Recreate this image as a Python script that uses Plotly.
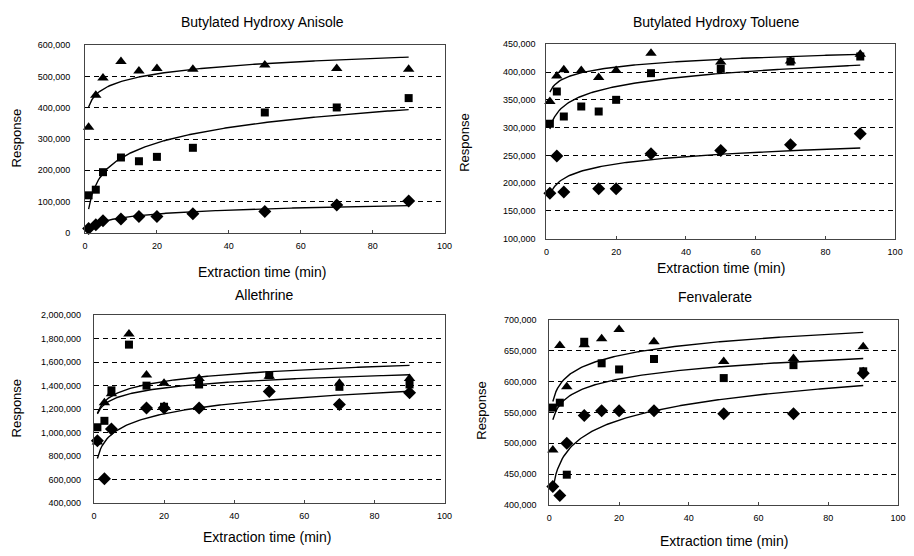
import numpy as np
import plotly.graph_objects as go

# ---------------- data ----------------
times = [1, 3, 5, 10, 15, 20, 30, 50, 70, 90]

bha_tri = [338000, 440000, 495000, 548000, 518000, 526000, 523000, 537000, 526000, 523000]
bha_sq = [120000, 138000, 194000, 241000, 229000, 243000, 272000, 385000, 401000, 431000]
bha_dia = [14000, 26000, 39000, 44000, 52000, 52000, 61000, 68000, 89000, 102000]

bht_tri = [347000, 393000, 404000, 403000, 390000, 403000, 434000, 418000, 420000, 432000]
bht_sq = [307000, 365000, 320000, 338000, 329000, 350000, 398000, 406000, 419000, 428000]
bht_dia = [182000, 249000, 184000, None, 190000, 190000, 253000, 259000, 269000, 289000]

all_tri = [920000, 1255000, 1330000, 1840000, 1490000, 1420000, 1460000, 1480000, 1420000, 1460000]
all_sq = [1045000, 1100000, 1360000, 1750000, 1400000, 1220000, 1410000, 1490000, 1390000, 1410000]
all_dia = [930000, 605000, 1030000, None, 1210000, 1210000, 1210000, 1350000, 1240000, 1340000]

fen_tri = [489000, 659000, 592000, 660000, 670000, 685000, 665000, 633000, 638000, 657000]
fen_sq = [558000, 566000, 449000, 665000, 630000, 620000, 637000, 606000, 627000, 617000]
fen_dia = [430000, 415000, 500000, 545000, 553000, 553000, 553000, 548000, 548000, 614000]

titles = ["Butylated Hydroxy Anisole", "Butylated Hydroxy Toluene", "Allethrine", "Fenvalerate"]
x_title = "Extraction time (min)"
y_title = "Response"
x_ticks = [0, 20, 40, 60, 80, 100]

panels = [
    dict(tri=bha_tri, sq=bha_sq, dia=bha_dia, yr=[0, 600000], dt=100000),
    dict(tri=bht_tri, sq=bht_sq, dia=bht_dia, yr=[100000, 450000], dt=50000),
    dict(tri=all_tri, sq=all_sq, dia=all_dia, yr=[400000, 2000000], dt=200000),
    dict(tri=fen_tri, sq=fen_sq, dia=fen_dia, yr=[400000, 700000], dt=50000),
]

# ---------------- layout geometry (pixels) ----------------
W, H = 914, 556
boxes = [  # left, right, top, bottom in px
    (83, 447, 41, 232),
    (550, 903, 40, 238),
    (92, 447, 316, 507),
    (553, 906, 321, 509),
]
ystandoff = [12, 8, 10, 10]
title_pos = [(263, 17), (722, 17), (265, 295), (721, 297)]
xlab_pos = [(262, 272), (727, 268), (267, 542), (730, 546)]
ylab_pos = [(14, 135), (467, 140), (14, 410), (484, 413)]

FONT = "Arial, Liberation Sans, sans-serif"

fig = go.Figure()


def fit_curve(x, y):
    xs = np.array([a for a, b in zip(x, y) if b is not None], dtype=float)
    ys = np.array([b for b in y if b is not None], dtype=float)
    b, a = np.polyfit(np.log(xs), ys, 1)
    xx = np.linspace(min(xs), max(xs), 200)
    return xx, a + b * np.log(xx)


for i, p in enumerate(panels):
    n = "" if i == 0 else str(i + 1)
    xa, ya = "x" + n, "y" + n
    for key, sym, size in [("dia", "diamond", 10), ("sq", "square", 8), ("tri", "triangle-up", 10)]:
        ys = p[key]
        fig.add_trace(go.Scatter(
            x=times, y=ys, mode="markers", xaxis=xa, yaxis=ya,
            marker=dict(symbol=sym, size=size, color="black", line=dict(width=0)),
            showlegend=False, cliponaxis=False))
        cx, cy = fit_curve(times, ys)
        fig.add_trace(go.Scatter(
            x=cx, y=cy, mode="lines", xaxis=xa, yaxis=ya,
            line=dict(color="black", width=1.4), showlegend=False))

    l, r, t, b = boxes[i]
    xdom = [l / W, r / W]
    ydom = [1 - b / H, 1 - t / H]
    fig.layout["xaxis" + n] = dict(
        domain=xdom, range=[0, 100], tickvals=x_ticks, showgrid=False, zeroline=False,
        showline=True, mirror=True, linecolor="#444", linewidth=1,
        ticks="inside", ticklen=3, tickcolor="#444", ticklabelstandoff=4,
        tickfont=dict(family=FONT, size=9, color="black"), anchor=ya)
    fig.layout["yaxis" + n] = dict(
        domain=ydom, range=p["yr"], dtick=p["dt"], tick0=p["yr"][0], tickformat=",",
        showgrid=True, gridcolor="black", griddash="5px,4px", gridwidth=1, zeroline=False,
        showline=True, mirror=True, linecolor="#444", linewidth=1, ticks="",
        tickfont=dict(family=FONT, size=9, color="black"), anchor=xa,
        ticklabelstandoff=ystandoff[i])

    common = dict(xref="paper", yref="paper", showarrow=False, xanchor="center", yanchor="middle")
    tx, ty = title_pos[i]
    fig.add_annotation(text=titles[i], x=tx / W, y=1 - ty / H,
                       font=dict(family=FONT, size=14, color="black"), **common)
    lx, lyy = xlab_pos[i]
    fig.add_annotation(text=x_title, x=lx / W, y=1 - lyy / H,
                       font=dict(family=FONT, size=14, color="black"), **common)
    vx, vy = ylab_pos[i]
    fig.add_annotation(text=y_title, x=vx / W, y=1 - vy / H, textangle=-90,
                       font=dict(family=FONT, size=13, color="black"), **common)

fig.update_layout(width=W, height=H, margin=dict(l=0, r=0, t=0, b=0),
                  paper_bgcolor="white", plot_bgcolor="white")

fig.write_html("out.html")
